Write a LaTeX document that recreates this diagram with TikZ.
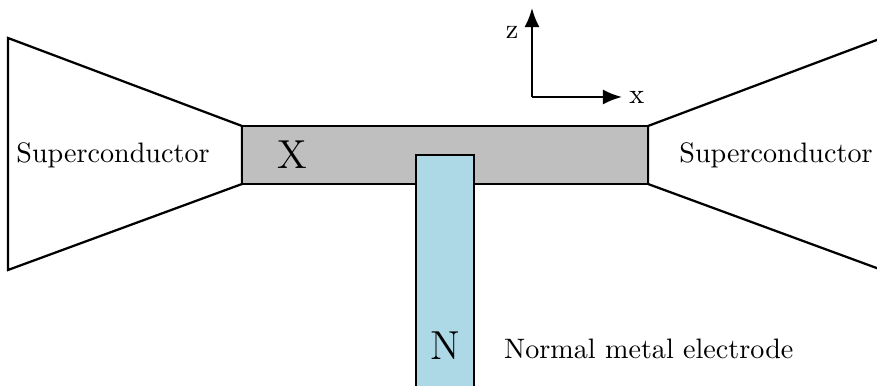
\documentclass[tikz,border=0pt]{standalone}
\usetikzlibrary{arrows.meta, positioning}
\definecolor{junctiongray}{RGB}{191,191,191}
\definecolor{normalblue}{RGB}{173,216,230}
\tikzset{
  lead/.style={draw=black, thick, fill=white},
  axis/.style={thick, -{Latex[length=2.4mm, width=1.9mm]}},
  lbl/.style={inner sep=1pt}
}
\begin{document}
\begin{tikzpicture}[x=0.0125cm, y=0.0125cm]
  \useasboundingbox (0,0) rectangle (877,386);
  \clip (0,0) rectangle (877,386);
  % superconducting leads
  \draw[lead] (8,348) -- (8,116) -- (242,202) -- (242,260) -- cycle;
  \draw[lead] (882,348) -- (882,116) -- (648,202) -- (648,260) -- cycle;
  % junction region
  \draw[thick, fill=junctiongray] (242,202) rectangle (648,260);
  % normal metal electrode
  \draw[thick, fill=normalblue] (416,-10) rectangle (474,231);
  \node[lbl] (scl) at (113,231) {Superconductor};
  \node[lbl] (scr) at (776,231) {Superconductor};
  \node[lbl, font=\Large] (xreg) at (292,231) {X};
  \node[lbl, font=\Large] (nreg) at (445,40) {N};
  \node[lbl, right=0.47cm of nreg, yshift=-1pt] (nlabel) {Normal metal electrode};
  % axes
  \coordinate (o) at (532,289);
  \coordinate (zend) at (532,378);
  \coordinate (xend) at (622,289);
  \draw[axis] (o) -- (zend);
  \draw[axis] (o) -- (xend);
  \node[lbl] (zlbl) at (512,354) {z};
  \node[lbl, right=0.05cm of xend] (xlbl) {x};
\end{tikzpicture}
\end{document}
